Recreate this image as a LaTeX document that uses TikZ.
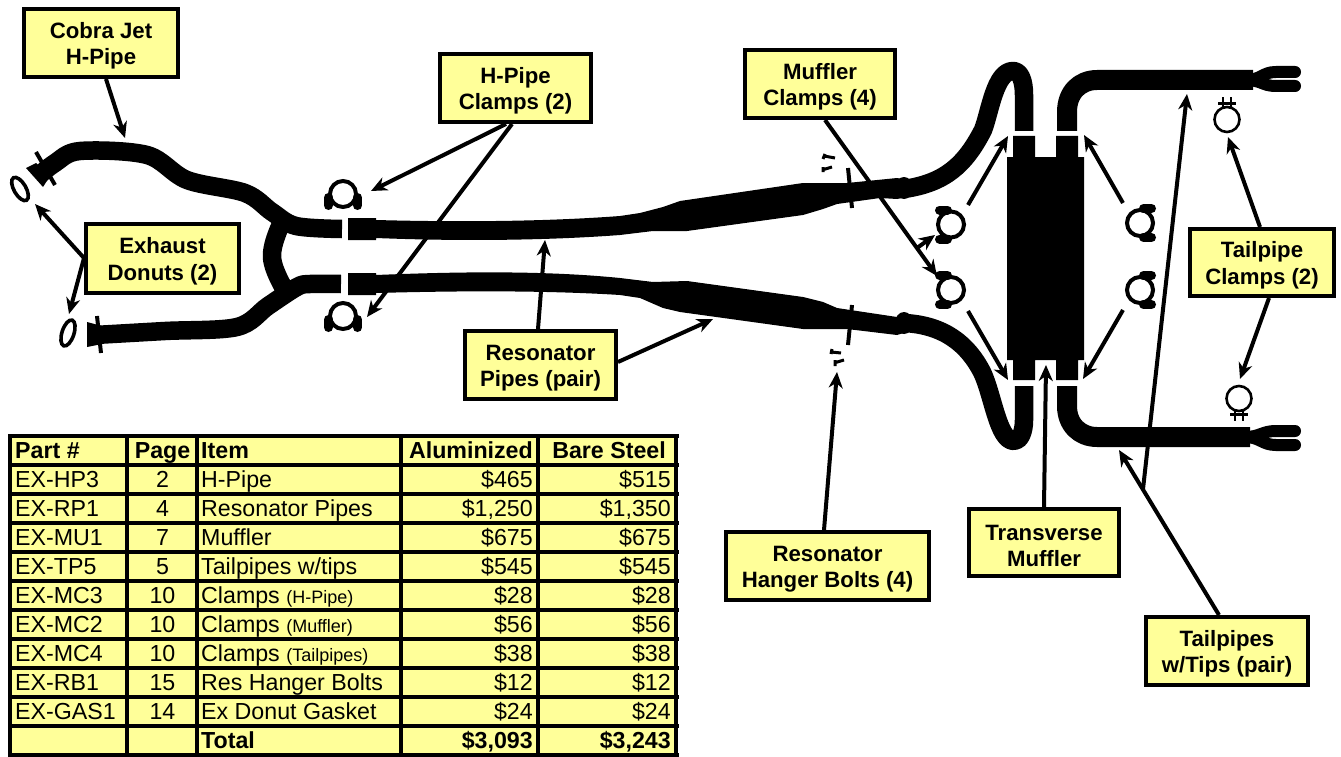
\documentclass[tikz,border=0pt]{standalone}
\usepackage{fontspec}
\setmainfont{Liberation Sans}
\usetikzlibrary{arrows.meta}
\definecolor{labelyellow}{HTML}{FFFF99}
\tikzset{
  callout/.style={draw=black,line width=4pt,fill=labelyellow,align=center,inner sep=0pt,
    font=\bfseries\fontsize{22.2}{26.5}\selectfont},
  pointer/.style={line width=4pt,-{Stealth[length=16pt,width=14pt,inset=5pt]}},
  pipe/.style={line width=18.5pt,black,line join=round},
  prong/.style={line width=12pt,black,line cap=round},
  ring/.style={draw=black,line width=4pt},
  thinring/.style={draw=black,line width=2.6pt},
  lobe/.style={line width=9pt,black,line cap=round},
  bar/.style={line width=4pt,black},
  bolt/.style={line width=3pt,black},
  tcell/.style={inner sep=0pt,font=\fontsize{23.2}{26}\selectfont},
  tbold/.style={inner sep=0pt,font=\bfseries\fontsize{23.2}{26}\selectfont},
  grid/.style={line width=4pt,black}
}
\newcommand{\firstline}{\rule{0pt}{22pt}}
\newcommand{\smalltxt}{\fontsize{18}{20}\selectfont}
\newcommand{\hoseclamp}[3]{%
  \begin{scope}[shift={(#1,#2)},rotate=#3]
    \draw[ring] (0,0) circle (13);
    \draw[lobe] (-14.5,3.5) -- (-14.5,11.5);
    \draw[lobe] (14.5,3.5) -- (14.5,11.5);
  \end{scope}}
\newcommand{\bandclamp}[3]{%
  \begin{scope}[shift={(#1,#2)},yscale=#3]
    \draw[thinring] (0,0) circle (12.5);
    \draw[line width=2.6pt] (-9,-16) -- (9,-16);
    \draw[line width=2.6pt] (-4,-22) -- (-4,-12) (4,-22) -- (4,-12);
  \end{scope}}
\begin{document}
\begin{tikzpicture}[x=1pt,y=-1pt]
\useasboundingbox[fill=white] (0,0) rectangle (1341,757);

% ---- exhaust, left side
\draw[pipe] plot[smooth,tension=0.55] coordinates {(36,178) (55,163) (80,151) (147,155) (187,180) (245,193) (272,212) (296,226) (342,229)};
\draw[pipe] plot[smooth,tension=0.55] coordinates {(95,335) (165,331) (237,327) (268,306) (297,287) (310,284) (341,284)};
\draw[pipe] plot[smooth,tension=0.7] coordinates {(284,218) (272,257) (288,295)};
\fill (26,168) -- (43,187) -- (50,176) -- (36,163) -- cycle;
\fill (87,322) -- (87,347) -- (102,344) -- (102,326) -- cycle;
\draw[bar] (36,152) -- (55,185);
\draw[bar] (97,316) -- (101,353);
\draw[line width=3.6pt] (20,189) ellipse[x radius=6,y radius=13,rotate=30];
\draw[line width=3.6pt] (68,333) ellipse[x radius=6,y radius=13.5,rotate=-18];

% ---- resonator pipes
\fill (348,218) -- (376,218) -- (376,220) .. controls (450,222) and (540,222) .. (620,216)
  -- (640,213) -- (663,207) -- (680,201) -- (803,183) -- (847,183) -- (897,178) -- (907,180) -- (907,197) -- (897,199) -- (880,198)
  -- (837,204) -- (823,209) -- (803,215) -- (687,231) -- (653,231) -- (620,235)
  .. controls (540,241) and (450,241) .. (376,238) -- (376,240) -- (348,240) -- cycle;
\fill (348,273) -- (376,273) -- (376,275) .. controls (450,272) and (540,270) .. (620,278)
  -- (653,282) -- (687,281) -- (803,297) -- (823,302) -- (837,308) -- (897,317) -- (907,313)
  -- (907,332) -- (897,335) -- (847,329) -- (803,329) -- (680,312) -- (663,308) -- (640,298) -- (620,295)
  .. controls (540,290) and (450,291) .. (376,293) -- (376,295) -- (348,295) -- cycle;
\fill (904,188) ellipse[x radius=9,y radius=11];
\fill (904,323) ellipse[x radius=9,y radius=11];
\draw[bar] (848,168) -- (852,208);
\draw[bar] (852,305) -- (848,345);
\draw[bolt] (824,156) -- (835,158) (825,154) -- (823,159);
\draw[bolt] (822,170) -- (832,167) (823,167) -- (823,172);
\draw[bolt] (831,352) -- (841,353) (832,349) -- (831,354);
\draw[bolt] (834,363) -- (844,360) (835,360) -- (835,366);

% ---- pipes up to the muffler
\draw[pipe] (904,189) .. controls (945,183) and (965,165) .. (983,130) .. controls (990,112) and (995,71) .. (1013,71) .. controls (1020,71) and (1024,80) .. (1024,95) -- (1024,131);
\draw[pipe] (904,323) .. controls (945,325) and (968,345) .. (982,372) .. controls (993,395) and (998,441) .. (1014,441) .. controls (1020,441) and (1024,432) .. (1024,420) -- (1024,386);
\fill (1007,157) -- (1013,157) -- (1013,136) -- (1035,136) -- (1035,157) -- (1056,157) -- (1056,136) -- (1078,136) -- (1078,157) -- (1084,157)
  -- (1084,360) -- (1078,360) -- (1078,380) -- (1056,380) -- (1056,360) -- (1035,360) -- (1035,380) -- (1013,380) -- (1013,360) -- (1007,360) -- cycle;

% ---- tailpipes
\draw[line width=20pt,line join=round] (1067,131) -- (1067,112) .. controls (1067,92) and (1080,80) .. (1097,80) -- (1253,80);
\draw[line width=20pt,line join=round] (1067,386) -- (1067,406) .. controls (1067,425) and (1080,437) .. (1097,437) -- (1250,437);
\draw[prong] (1245,80) .. controls (1262,80) and (1262,72) .. (1276,72) -- (1295,72);
\draw[prong] (1245,80) .. controls (1262,80) and (1262,86) .. (1276,86) -- (1295,86);
\draw[prong] (1245,437) .. controls (1260,437) and (1262,431) .. (1276,431) -- (1295,431);
\draw[prong] (1245,437) .. controls (1260,437) and (1262,445) .. (1276,445) -- (1295,445);

% ---- clamps
\hoseclamp{343}{194}{0}
\hoseclamp{343}{316}{0}
\hoseclamp{951}{224.5}{-90}
\hoseclamp{951}{290}{-90}
\hoseclamp{1140}{223}{90}
\hoseclamp{1140}{290}{90}
\bandclamp{1227}{119.5}{1}
\bandclamp{1239}{398.5}{-1}

% ---- callouts
\node[callout,minimum width=154pt,minimum height=68pt] (cobra) at (101,43) {\firstline Cobra Jet\\H-Pipe};
\node[callout,minimum width=151pt,minimum height=68pt] (hclamps) at (515.5,88) {\firstline H-Pipe\\Clamps (2)};
\node[callout,minimum width=150pt,minimum height=68pt] (mclamps) at (820,84) {\firstline Muffler\\Clamps (4)};
\node[callout,minimum width=153pt,minimum height=69pt] (donuts) at (162.5,258.5) {\firstline Exhaust\\Donuts (2)};
\node[callout,minimum width=151pt,minimum height=68pt] (respipes) at (540.5,365) {\firstline Resonator\\Pipes (pair)};
\node[callout,minimum width=203pt,minimum height=68pt] (hanger) at (827.5,566) {\firstline Resonator\\Hanger Bolts (4)};
\node[callout,minimum width=150pt,minimum height=67pt] (muffler) at (1044,542.5) {\firstline Transverse\\Muffler};
\node[callout,minimum width=144pt,minimum height=67pt] (tclamps) at (1262,262.5) {\firstline Tailpipe\\Clamps (2)};
\node[callout,minimum width=162pt,minimum height=68pt] (tails) at (1227,651) {\firstline Tailpipes\\w/Tips (pair)};

% ---- connector ends
\coordinate (cobraO) at (106,79);   \coordinate (cobraT) at (125,138);
\coordinate (hcA) at (506,124);     \coordinate (hcAT) at (371,191);
\coordinate (hcB) at (512,124);     \coordinate (hcBT) at (367,317);
\coordinate (mcO) at (825,120);     \coordinate (mcT) at (937,276);
\coordinate (mcJ) at (917,248);     \coordinate (mcJT) at (935,235);
\coordinate (dnO) at (84,258);      \coordinate (dnA) at (35,204);  \coordinate (dnB) at (69,314);
\coordinate (rpA) at (538,329);     \coordinate (rpAT) at (545,240);
\coordinate (rpB) at (618,362);     \coordinate (rpBT) at (713,319);
\coordinate (hgO) at (824,530);     \coordinate (hgT) at (837,372);
\coordinate (tmO) at (1044,507);    \coordinate (tmT) at (1046,365);
\coordinate (tcA) at (1260,227);    \coordinate (tcAT) at (1228,137);
\coordinate (tcB) at (1269,298);    \coordinate (tcBT) at (1240,379);
\coordinate (tpO) at (1219,615);    \coordinate (tpT) at (1119,450);
\coordinate (tpJ) at (1143,489);    \coordinate (tpJT) at (1187,94);
\coordinate (ulS) at (968,205);     \coordinate (ulT) at (1008,136);
\coordinate (llS) at (968,311);     \coordinate (llT) at (1008,380);
\coordinate (urS) at (1123,203);    \coordinate (urT) at (1084,135);
\coordinate (lrS) at (1123,310);    \coordinate (lrT) at (1083,379);

\draw[pointer] (cobraO) -- (cobraT);
\draw[pointer] (hcA) -- (hcAT);
\draw[pointer] (hcB) -- (hcBT);
\draw[pointer] (mcO) -- (mcT);
\draw[pointer] (mcJ) -- (mcJT);
\draw[pointer] (dnO) -- (dnA);
\draw[pointer] (dnO) -- (dnB);
\draw[pointer] (rpA) -- (rpAT);
\draw[pointer] (rpB) -- (rpBT);
\draw[pointer] (hgO) -- (hgT);
\draw[pointer] (tmO) -- (tmT);
\draw[pointer] (tcA) -- (tcAT);
\draw[pointer] (tcB) -- (tcBT);
\draw[pointer] (tpO) -- (tpT);
\draw[pointer] (tpJ) -- (tpJT);
\draw[pointer] (ulS) -- (ulT);
\draw[pointer] (llS) -- (llT);
\draw[pointer] (urS) -- (urT);
\draw[pointer] (lrS) -- (lrT);

% ---- parts table
\fill[labelyellow] (10,436) rectangle (677,755);
\foreach \yy in {436,464.5,493.5,522.5,551.5,580.5,610,639,668,697,726,755}
  \draw[grid] (8,\yy) -- (679,\yy);
\foreach \xx in {10,127,197,401,538,676}
  \draw[grid] (\xx,434) -- (\xx,757);

\node[tbold,anchor=base west] (h1) at (15,458) {Part \#};
\node[tbold,anchor=base] (h2) at (162.5,458) {Page};
\node[tbold,anchor=base west] (h3) at (201,458) {Item};
\node[tbold,anchor=base east] (h4) at (533,458) {Aluminized};
\node[tbold,anchor=base east] (h5) at (666,458) {Bare Steel};
\foreach \i/\yy/\pn/\pg/\it/\al/\br in {
  1/487/EX-HP3/2/H-Pipe/\$465/\$515,
  2/516/EX-RP1/4/Resonator Pipes/\$1{,}250/\$1{,}350,
  3/545/EX-MU1/7/Muffler/\$675/\$675,
  4/574/EX-TP5/5/{Tailpipes w/tips}/\$545/\$545,
  5/603/EX-MC3/10/{Clamps {\smalltxt(H-Pipe)}}/\$28/\$28,
  6/632.5/EX-MC2/10/{Clamps {\smalltxt(Muffler)}}/\$56/\$56,
  7/661.5/EX-MC4/10/{Clamps {\smalltxt(Tailpipes)}}/\$38/\$38,
  8/690.5/EX-RB1/15/Res Hanger Bolts/\$12/\$12,
  9/719.5/EX-GAS1/14/Ex Donut Gasket/\$24/\$24}{
  \node[tcell,anchor=base west] (pn\i) at (15,\yy) {\pn};
  \node[tcell,anchor=base] (pg\i) at (162.5,\yy) {\pg};
  \node[tcell,anchor=base west] (it\i) at (201,\yy) {\it};
  \node[tcell,anchor=base east] (al\i) at (533,\yy) {\al};
  \node[tcell,anchor=base east] (br\i) at (671,\yy) {\br};
}
\node[tbold,anchor=base west] (tot) at (201,748.5) {Total};
\node[tbold,anchor=base east] (totA) at (533,748.5) {\$3,093};
\node[tbold,anchor=base east] (totB) at (671,748.5) {\$3,243};
\end{tikzpicture}
\end{document}
